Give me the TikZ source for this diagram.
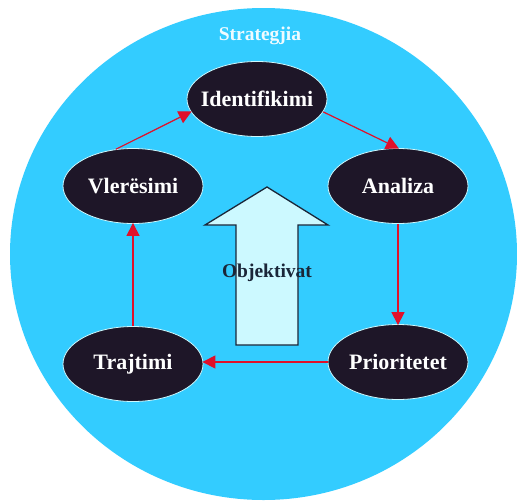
\documentclass[tikz,border=0pt]{standalone}
\usepackage{fontspec}
\setmainfont{Liberation Serif}
\usetikzlibrary{shapes.geometric,arrows.meta}
\definecolor{sky}{HTML}{33CCFF}
\definecolor{inkdark}{HTML}{1E1628}
\definecolor{pale}{HTML}{CCF9FF}
\definecolor{arrred}{HTML}{E0102A}
\definecolor{navy}{HTML}{1A2638}
\newcommand{\stagelbl}[1]{\makebox[0pt]{#1}}
\tikzset{
  stage/.style={ellipse, draw=pale, line width=0.8pt, fill=inkdark,
    minimum width=140pt, minimum height=75pt, inner sep=0pt,
    text=white, font=\fontsize{22}{22}\selectfont\bfseries},
  flow/.style={draw=arrred, line width=1.2pt,
    -{Triangle[length=13pt,width=13pt]}, shorten >=-1pt}
}
\begin{document}
\begin{tikzpicture}[x=1pt,y=-1pt]
\useasboundingbox (0,0) rectangle (517,501);
\fill[white] (0,0) rectangle (517,501);
\node[ellipse, fill=sky, minimum width=507pt, minimum height=492pt, inner sep=0pt] (bg) at (263.5,254) {};
\node[text=white!92!sky, font=\fontsize{19.5}{19.5}\selectfont\bfseries] (strat) at (260,36) {Strategjia};
% big arrow
\draw[fill=pale, draw=navy, line width=1.3pt, line join=miter]
  (236,345) -- (236,225) -- (205,225) -- (267,187) -- (328,225) -- (298,225) -- (298,345) -- cycle;
\node[text=navy, font=\fontsize{19.5}{19.5}\selectfont\bfseries] (obj) at (267,273) {Objektivat};
% stages
\node[stage] (i) at (257,99) {\stagelbl{Identifikimi}};
\node[stage] (v) at (133,186) {\stagelbl{Vlerësimi}};
\node[stage] (a) at (398,186) {\stagelbl{Analiza}};
\node[stage] (t) at (133,364) {\stagelbl{Trajtimi}};
\node[stage] (p) at (398,362) {\stagelbl{Prioritetet}};
% connectors
\draw[flow] (v.115) -- (i.191);
\draw[flow] (i.-11) -- (a.north);
\draw[flow] (a.south) -- (p.north);
\draw[flow] (p.west) -- (p.west -| t.east);
\draw[flow] (t.north) -- (v.south);
\end{tikzpicture}
\end{document}
